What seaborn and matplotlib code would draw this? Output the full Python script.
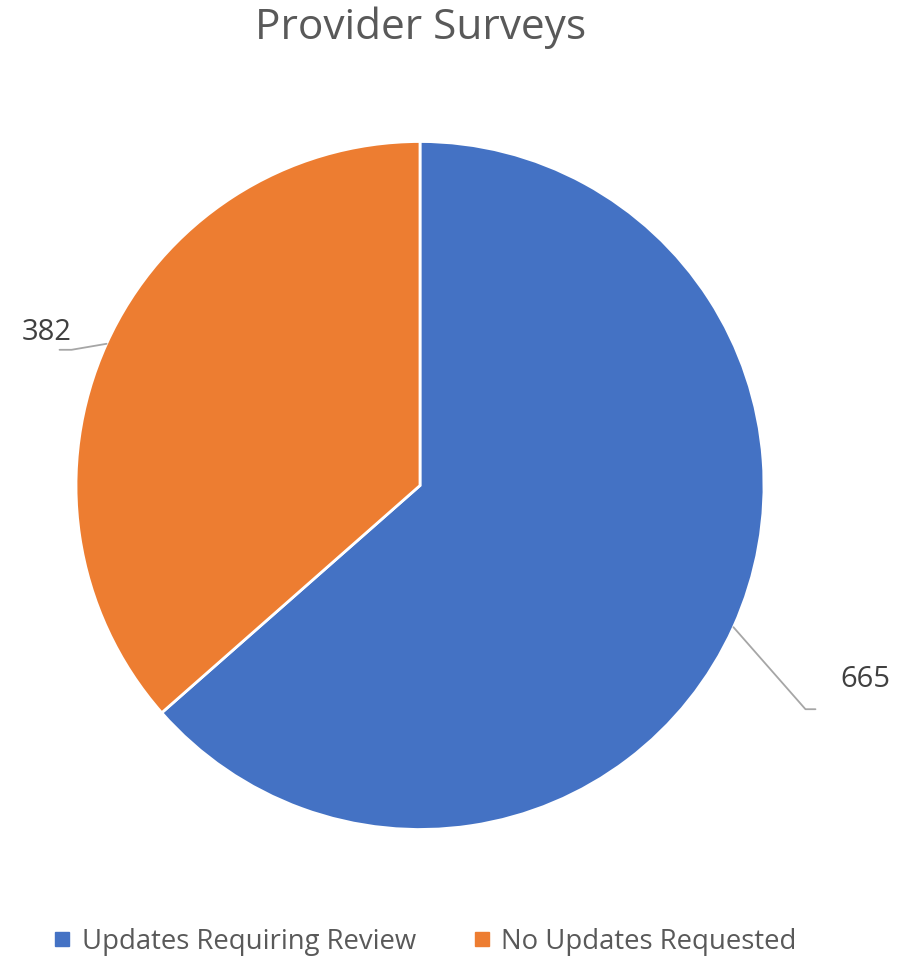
import numpy as np
import matplotlib.pyplot as plt
import seaborn as sns
from matplotlib.lines import Line2D

# 数据
categories = ['Updates Requiring Review', 'No Updates Requested']
values = [665, 382]
colors = sns.color_palette(['#4472C4', '#ED7D31'])

sns.set_theme(style='white')
plt.rcParams['font.family'] = ['Open Sans', 'DejaVu Sans']

fig = plt.figure(figsize=(9.02, 9.6), dpi=100)
ax = fig.add_axes([0, 0, 1, 1])

cx, cy, r = 420, 474.5, 344
wedges, _ = ax.pie(values, colors=colors, startangle=90, counterclock=False,
                   center=(cx, cy), radius=r, frame=True,
                   wedgeprops={'edgecolor': 'white', 'linewidth': 2})
ax.set_xlim(0, 902)
ax.set_ylim(0, 960)
ax.set_aspect('equal')
ax.axis('off')

# 引导线 + 数值标签
gray = '#A6A6A6'
for w, v in zip(wedges, values):
    mid = np.deg2rad((w.theta1 + w.theta2) / 2)
    x0, y0 = cx + r * np.cos(mid), cy + r * np.sin(mid)
    if np.cos(mid) > 0:
        x1, y1 = x0 + 72, y0 - 82
        x2 = x1 + 10
        ax.plot([x0, x1, x2], [y0, y1, y1], color=gray, lw=1.3)
        ax.text(x2 + 50, y1 + 30, str(v), ha='center', va='center',
                fontsize=21, color='#404040')
    else:
        x1, y1 = x0 - 35, y0 - 6
        x2 = x1 - 12
        ax.plot([x0, x1, x2], [y0, y1, y1], color=gray, lw=1.3)
        ax.text(x2 - 13, y1 + 17, str(v), ha='center', va='center',
                fontsize=21, color='#404040')

fig.text(0.466, 0.971, 'Provider Surveys', ha='center', va='center',
         fontsize=30.5, color='#595959')

handles = [Line2D([], [], marker='s', linestyle='', markersize=10,
                  markerfacecolor=c, markeredgecolor=c) for c in colors]
fig.legend(handles, categories, loc='center', bbox_to_anchor=(0.47, 0.019),
           ncol=2, frameon=False, fontsize=19.8, labelcolor='#595959',
           handletextpad=0.3, columnspacing=2.0, handlelength=0.8)

fig.savefig('out.png', dpi=100)
